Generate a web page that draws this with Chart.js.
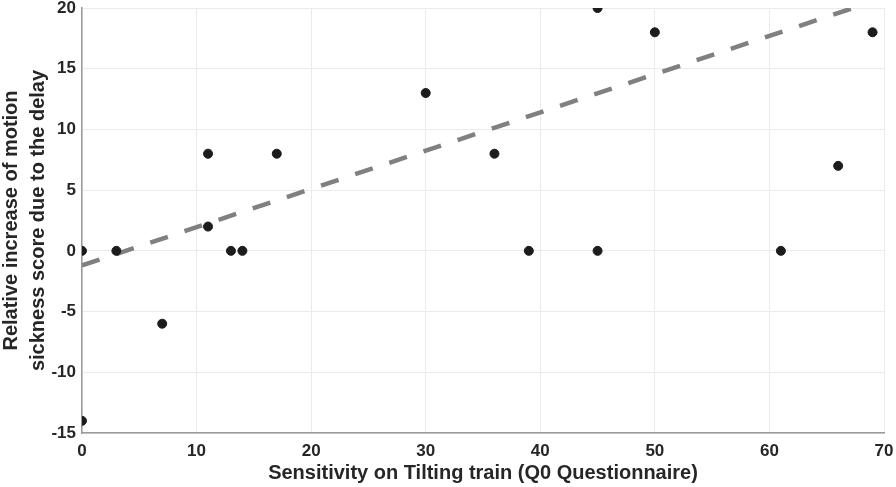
<!DOCTYPE html>
<html>
<head>
<meta charset="utf-8">
<script src="https://cdn.jsdelivr.net/npm/chart.js@4/dist/chart.umd.min.js"></script>
<style>
  html, body { margin: 0; padding: 0; background: #fff; }
  #wrap { width: 896px; height: 487px; }
</style>
</head>
<body>
<div id="wrap"><canvas id="scatter"></canvas></div>
<script>
// sensitivity (Q0) vs relative increase of sickness score
var sensitivity = [0, 0, 3, 7, 11, 11, 13, 14, 17, 30, 36, 39, 45, 45, 50, 61, 66, 69];
var increase    = [0, -14, 0, -6, 8, 2, 0, 0, 8, 13, 8, 0, 20, 0, 18, 0, 7, 18];

// fitted trend line, read at both ends of the x range
var fitX = [0, 70];
var fitY = [-1.2, 20.85];

var xTicks = [0, 10, 20, 30, 40, 50, 60, 70];
var yTicks = [-15, -10, -5, 0, 5, 10, 15, 20];

var pts = sensitivity.map(function (x, i) { return { x: x, y: increase[i] }; });
var fit = fitX.map(function (x, i) { return { x: x, y: fitY[i] }; });

var tickFont = { family: "'Liberation Sans', Arial, sans-serif", size: 17, weight: 'bold' };
var titleFont = { family: "'Liberation Sans', Arial, sans-serif", size: 20, weight: 'bold', lineHeight: 1.35 };

var ctx = document.getElementById('scatter');
var chart = new Chart(ctx, {
  type: 'scatter',
  data: {
    datasets: [
      {
        label: 'fit',
        type: 'line',
        data: fit,
        borderColor: '#808080',
        borderWidth: 4.5,
        borderDash: [18.5, 17.5],
        borderCapStyle: 'butt',
        pointRadius: 0,
        fill: false,
        order: 2
      },
      {
        label: 'subjects',
        data: pts,
        backgroundColor: '#1c1c1c',
        borderColor: '#1c1c1c',
        pointRadius: 4.5,
        pointHoverRadius: 4.5,
        order: 1
      }
    ]
  },
  options: {
    responsive: true,
    maintainAspectRatio: false,
    animation: false,
    layout: { padding: { left: 0, right: 12, top: 8, bottom: 0 } },
    plugins: {
      legend: { display: false },
      tooltip: { enabled: false }
    },
    scales: {
      x: {
        type: 'linear',
        min: 0,
        max: 70,
        afterBuildTicks: function (s) { s.ticks = xTicks.map(function (v) { return { value: v }; }); },
        afterFit: function (s) { s.height = 54; s.paddingLeft = 0; s.paddingRight = 0; },
        ticks: { font: tickFont, color: '#262626', padding: 8, maxRotation: 0 },
        grid: { color: '#ebebeb', lineWidth: 1, drawTicks: false },
        border: { color: '#9a9a9a', width: 1.5 },
        title: {
          display: true,
          text: 'Sensitivity on Tilting train (Q0 Questionnaire)',
          font: titleFont,
          color: '#262626',
          padding: { top: 0, bottom: 0 }
        }
      },
      y: {
        type: 'linear',
        min: -15,
        max: 20,
        afterBuildTicks: function (s) { s.ticks = yTicks.map(function (v) { return { value: v }; }); },
        afterFit: function (s) { s.width = 82; s.paddingTop = 0; s.paddingBottom = 0; },
        ticks: { font: tickFont, color: '#262626', padding: 6 },
        grid: { color: '#ebebeb', lineWidth: 1, drawTicks: false },
        border: { color: '#9a9a9a', width: 1.5 },
        title: {
          display: true,
          text: ['Relative increase of motion', 'sickness score due to the delay'],
          font: titleFont,
          color: '#262626',
          padding: { top: -2, bottom: 0 }
        }
      }
    }
  }
});
</script>
</body>
</html>
